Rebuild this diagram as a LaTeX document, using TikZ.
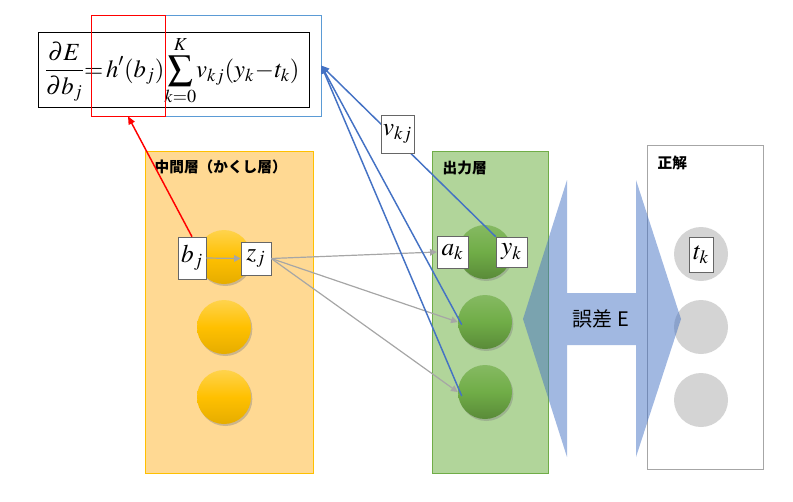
\documentclass[tikz,border=0pt]{standalone}
\usepackage{amsmath}
\usepackage{mathptmx}
\usepackage{fontspec}
\setmainfont{Liberation Serif}
\newfontfamily\jpfont{Noto Sans CJK JP}
\usetikzlibrary{arrows.meta,shadows}

\definecolor{hidfill}{HTML}{FFD993}
\definecolor{hidline}{HTML}{FFC000}
\definecolor{outfill}{HTML}{B1D59A}
\definecolor{outline}{HTML}{70AD47}
\definecolor{ansline}{HTML}{A6A6A6}
\definecolor{errblue}{HTML}{4472C4}
\definecolor{eqblue}{HTML}{5B9BD5}
\definecolor{graycirc}{HTML}{D4D4D4}

\tikzset{
	varbox/.style = {draw=black!60, fill=white, inner sep=0pt, font=\fontsize{19}{22}\selectfont},
	hidball/.style = {circle, minimum size=40.5pt, top color=hidline!70, bottom color=hidline!90!black, middle color=hidline, drop shadow={opacity=0.4, shadow xshift=1pt, shadow yshift=-1.5pt}},
	outball/.style = {circle, minimum size=40.5pt, top color=outline!85, bottom color=outline!80!black, middle color=outline, drop shadow={opacity=0.4, shadow xshift=1pt, shadow yshift=-1.5pt}},
	ansball/.style = {circle, minimum size=40.5pt, fill=graycirc},
	layername/.style = {anchor=west, font=\jpfont\bfseries\fontsize{11}{13}\selectfont},
	fwd/.style = {ansline, line width=0.9pt, -{Triangle[length=5pt, width=5pt]}},
	back/.style = {errblue, line width=1.1pt, -{Triangle[length=6pt, width=5pt]}}
}

\begin{document}
\begin{tikzpicture}[x=0.75pt, y=-0.75pt]
	\useasboundingbox (0,0) rectangle (793,501);
	
	% layers
	\draw[hidline, fill=hidfill] (145,151) rectangle (313,473);
	\draw[outline, fill=outfill] (432,151) rectangle (548,473);
	\draw[black!35] (647,145) rectangle (763,469);
	\node[layername] (hidname) at (150,167) {中間層（かくし層）};
	\node[layername] (outname) at (438,168) {出力層};
	\node[layername] (ansname) at (653,163) {正解};
	
	% formula
	\node[draw=eqblue, minimum width=117pt, minimum height=75.75pt] (bluebox) at (243,65.5) {};
	\node[draw=black, fill=white, inner sep=0pt, minimum width=203.25pt, minimum height=56.25pt] (eq) at (173.5,69.5) {};
	\node[inner sep=0pt, font=\fontsize{18.5}{22}\selectfont] (eqtext) at (172,71)
		{$\displaystyle \frac{\partial E}{\partial b_{j}}\!\!=\!h'(b_{j})\!\sum_{k=0}^{K}\!v_{kj}(y_{k}\!-\!t_{k})$};
	\node[draw=red, minimum width=55.5pt, minimum height=75.75pt] (redbox) at (128,65.5) {};
	
	% units
	\node[hidball] (h1) at (224,257) {};
	\node[hidball] (h2) at (224,327) {};
	\node[hidball] (h3) at (224,397) {};
	\node[outball] (o1) at (485,252) {};
	\node[outball] (o2) at (485,322) {};
	\node[outball] (o3) at (485,392) {};
	\node[ansball] (t1) at (701,254) {};
	\node[ansball] (t2) at (701,327) {};
	\node[ansball] (t3) at (701,400) {};
	
	% error arrow
	\fill[errblue, fill opacity=0.5] (523,319) -- (567,180) -- (567,293) -- (636,293) -- (636,180) -- (681,319)
		-- (636,457) -- (636,345) -- (567,345) -- (567,457) -- cycle;
	\node[font=\jpfont\fontsize{15}{18}\selectfont] (err) at (601,319) {誤差\ E};
	
	% values
	\node[varbox, minimum width=21pt, minimum height=31.5pt] (bj) at (192,258) {$b_{j}$};
	\node[varbox, minimum width=22.5pt, minimum height=24.75pt] (zj) at (256,258.5) {$\boldsymbol{z}_{j}$};
	\node[varbox, minimum width=23.25pt, minimum height=24pt] (ak) at (452.5,252) {$a_{k}$};
	\node[varbox, minimum width=23.25pt, minimum height=22.5pt] (yk) at (511.5,252) {$y_{k}$};
	\node[varbox, minimum width=18pt, minimum height=26.25pt] (tk) at (701,254.5) {$t_{k}$};
	
	% forward
	\draw[fwd] (bj.east) -- (zj.west);
	\draw[fwd] (zj.east) -- (ak.west);
	\draw[fwd] (zj.east) -- (o2.west);
	\draw[fwd] (zj.east) -- (o3.west);
	
	% backward
	\draw[red, line width=1.1pt, -{Triangle[length=6pt, width=5pt]}] (bj.north) -- (redbox.south);
	\draw[back] (yk.north west) -- (bluebox.east);
	\draw[back] ([xshift=3pt,yshift=-2pt]o2.west) -- (bluebox.east);
	\draw[back] ([xshift=3pt,yshift=-3pt]o3.west) -- (bluebox.east);
	\node[varbox, minimum width=24.75pt, minimum height=28.5pt] (vkj) at (397.5,134) {$v_{kj}$};
\end{tikzpicture}
\end{document}
